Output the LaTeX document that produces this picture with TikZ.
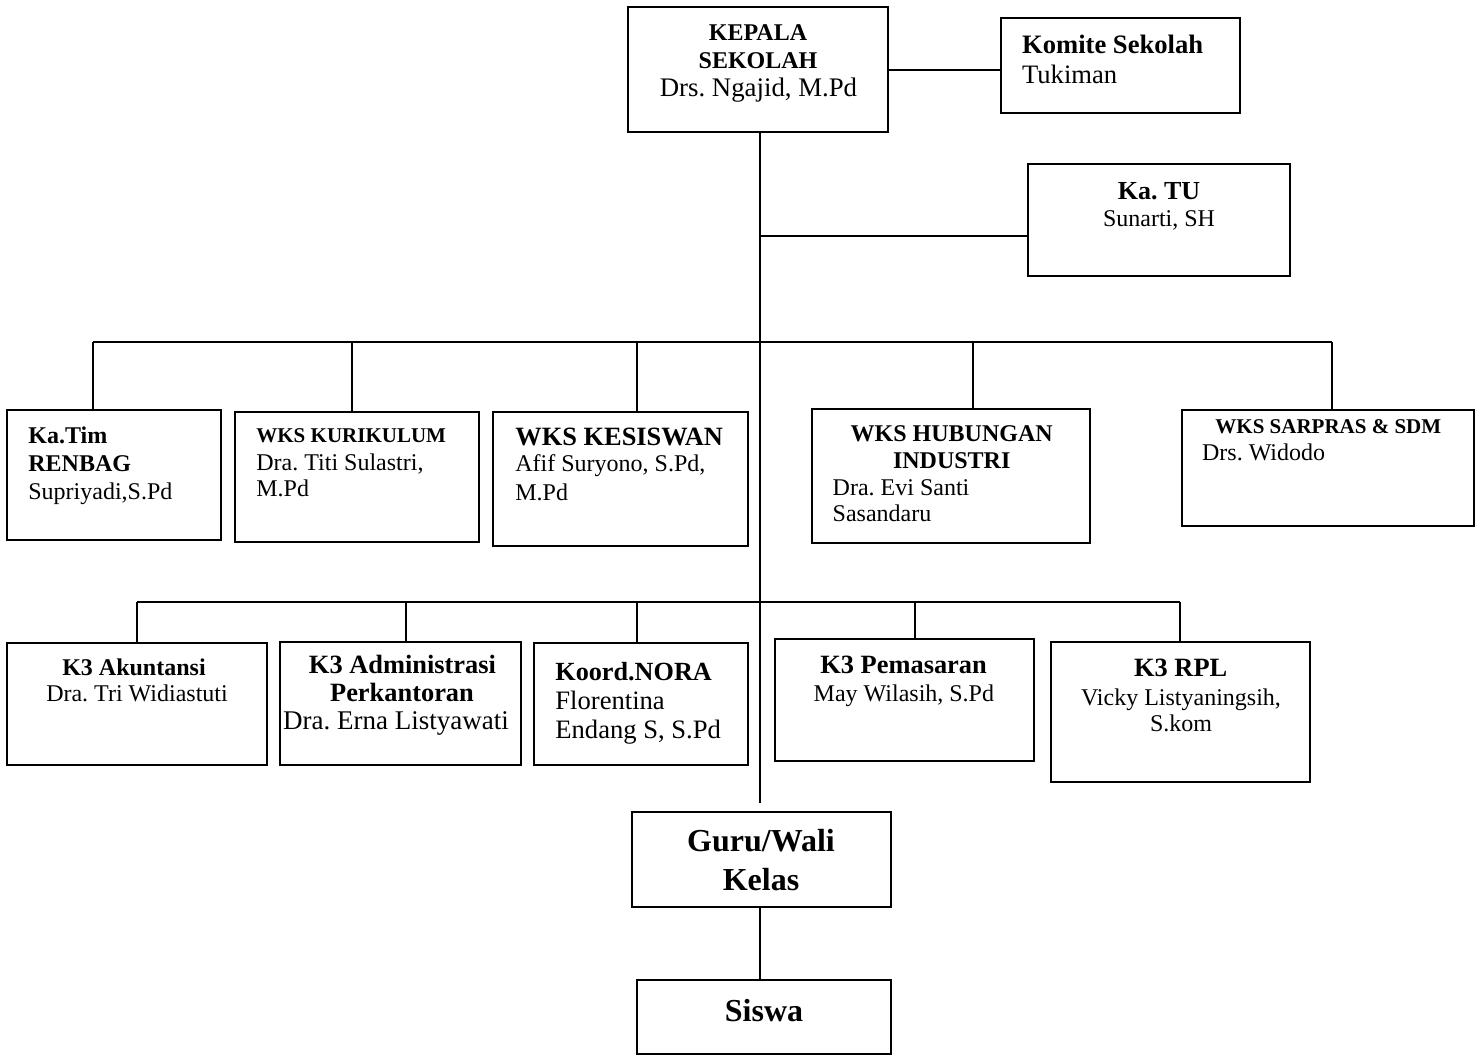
\documentclass[tikz,border=0pt]{standalone}
\usepackage{fontspec}
\setmainfont{Liberation Serif}
\frenchspacing
\newcommand\txtsz[1]{\fontsize{#1pt}{#1pt}\selectfont}
\tikzset{
  box/.style={draw, line width=1pt, rectangle, inner sep=0pt},
  conn/.style={line width=1pt},
  ct/.style={inner sep=0pt, anchor=base},
  lt/.style={inner sep=0pt, anchor=base west},
  hd/.style={font=\bfseries\txtsz{#1}},
  nm/.style={font=\txtsz{#1}},
}
% \orgbox{name}{left}{top}{right}{bottom}
\newcommand\orgbox[5]{\node[box, minimum width={(#4-#2)*0.5pt}, minimum height={(#5-#3)*0.5pt}] (#1) at ({(#2+#4)/2},{(#3+#5)/2}) {};}

\begin{document}
\begin{tikzpicture}[x=0.5pt, y=-0.5pt]
\useasboundingbox (0,0) rectangle (1475,1057);

% ---- boxes ----
\orgbox{kepala}{628}{7}{888}{132}
\orgbox{komite}{1001}{18}{1240}{113}
\orgbox{katu}{1028}{164}{1290}{276}
\orgbox{katim}{7}{410}{221}{540}
\orgbox{kurikulum}{235}{412}{479}{542}
\orgbox{kesiswan}{493}{412}{748}{546}
\orgbox{hubungan}{812}{409}{1090}{543}
\orgbox{sarpras}{1182}{410}{1474}{526}
\orgbox{akuntansi}{7}{643}{267}{765}
\orgbox{adm}{280}{642}{521}{765}
\orgbox{nora}{534}{643}{748}{765}
\orgbox{pemasaran}{775}{639}{1034}{761}
\orgbox{rpl}{1051}{642}{1310}{782}
\orgbox{guru}{632}{812}{891}{907}
\orgbox{siswa}{637}{980}{891}{1054}

% ---- texts ----
\node[ct, hd=12] (kepala-a) at (758,40.7) {KEPALA};
\node[ct, hd=12] (kepala-b) at (758,68.3) {SEKOLAH};
\node[ct, nm=13.4] (kepala-c) at (758.5,96.7) {Drs. Ngajid, M.Pd};

\node[lt, hd=13.3] (komite-a) at (1021.7,53.3) {Komite Sekolah};
\node[lt, nm=13.3] (komite-b) at (1021.7,83.3) {Tukiman};

\node[ct, hd=13] (katu-a) at (1159,199.3) {Ka. TU};
\node[ct, nm=12] (katu-b) at (1159,226.7) {Sunarti, SH};

\node[lt, hd=12] (katim-a) at (28,443) {Ka.Tim};
\node[lt, hd=12] (katim-b) at (28,471) {RENBAG};
\node[lt, nm=12] (katim-c) at (28,499) {Supriyadi,S.Pd};

\node[lt, hd=10.5] (kurikulum-a) at (256,442.7) {WKS KURIKULUM};
\node[lt, nm=12] (kurikulum-b) at (256,470) {Dra. Titi Sulastri,};
\node[lt, nm=12] (kurikulum-c) at (256,496.7) {M.Pd};

\node[lt, hd=13.2] (kesiswan-a) at (515,445) {WKS KESISWAN};
\node[lt, nm=12] (kesiswan-b) at (515,471.7) {Afif Suryono, S.Pd,};
\node[lt, nm=12] (kesiswan-c) at (515,500) {M.Pd};

\node[ct, hd=12] (hubungan-a) at (951.7,441.7) {WKS HUBUNGAN};
\node[ct, hd=12] (hubungan-b) at (951.7,468.3) {INDUSTRI};
\node[lt, nm=12] (hubungan-c) at (832.3,495) {Dra. Evi Santi};
\node[lt, nm=12] (hubungan-d) at (832.3,521.7) {Sasandaru};

\node[ct, hd=10.5] (sarpras-a) at (1328.3,433.3) {WKS SARPRAS \& SDM};
\node[lt, nm=12] (sarpras-b) at (1201.7,460) {Drs. Widodo};

\node[ct, hd=12] (akuntansi-a) at (134,675) {K3 Akuntansi};
\node[ct, nm=12] (akuntansi-b) at (137,701.7) {Dra. Tri Widiastuti};

\node[ct, hd=13.2] (adm-a) at (402.5,673.3) {K3 Administrasi};
\node[ct, hd=13.2] (adm-b) at (402,701) {Perkantoran};
\node[ct, nm=13.5] (adm-c) at (396,729.3) {Dra. Erna Listyawati};

\node[lt, hd=13.1] (nora-a) at (555,680) {Koord.NORA};
\node[lt, nm=13.3] (nora-b) at (555,709) {Florentina};
\node[lt, nm=13.3] (nora-c) at (555,738.3) {Endang S, S.Pd};

\node[ct, hd=13.2] (pemasaran-a) at (903.6,673.3) {K3 Pemasaran};
\node[ct, nm=12] (pemasaran-b) at (903.9,701) {May Wilasih, S.Pd};

\node[ct, hd=13.2] (rpl-a) at (1180.7,676.7) {K3 RPL};
\node[ct, nm=12] (rpl-b) at (1181,705) {Vicky Listyaningsih,};
\node[ct, nm=12] (rpl-c) at (1181,731.7) {S.kom};

\node[ct, hd=16] (guru-a) at (761,851.7) {Guru/Wali};
\node[ct, hd=16] (guru-b) at (761,890) {Kelas};

\node[ct, hd=16] (siswa-a) at (764,1021.7) {Siswa};

% ---- junction points ----
\coordinate (trunkend) at (760,803);
\coordinate (tujoin) at (760,236);
\coordinate (d1) at (93,342);
\coordinate (d2) at (352,342);
\coordinate (d3) at (636.5,342);
\coordinate (d4) at (973,342);
\coordinate (d5) at (1332,342);
\coordinate (e1) at (137,602);
\coordinate (e2) at (406,602);
\coordinate (e3) at (636.5,602);
\coordinate (e4) at (915,602);
\coordinate (e5) at (1180,602);

% ---- connectors ----
\draw[conn] (kepala.east) -- (kepala.east -| komite.west);
\draw[conn] (kepala.south -| trunkend) -- (trunkend);
\draw[conn] (tujoin) -- (tujoin -| katu.west);

\draw[conn] (d1) -- (d5);
\draw[conn] (d1) -- (d1 |- katim.north);
\draw[conn] (d2) -- (d2 |- kurikulum.north);
\draw[conn] (d3) -- (d3 |- kesiswan.north);
\draw[conn] (d4) -- (d4 |- hubungan.north);
\draw[conn] (d5) -- (d5 |- sarpras.north);

\draw[conn] (e1) -- (e5);
\draw[conn] (e1) -- (e1 |- akuntansi.north);
\draw[conn] (e2) -- (e2 |- adm.north);
\draw[conn] (e3) -- (e3 |- nora.north);
\draw[conn] (e4) -- (e4 |- pemasaran.north);
\draw[conn] (e5) -- (e5 |- rpl.north);

\draw[conn] (guru.south -| trunkend) -- (siswa.north -| trunkend);
\end{tikzpicture}
\end{document}
